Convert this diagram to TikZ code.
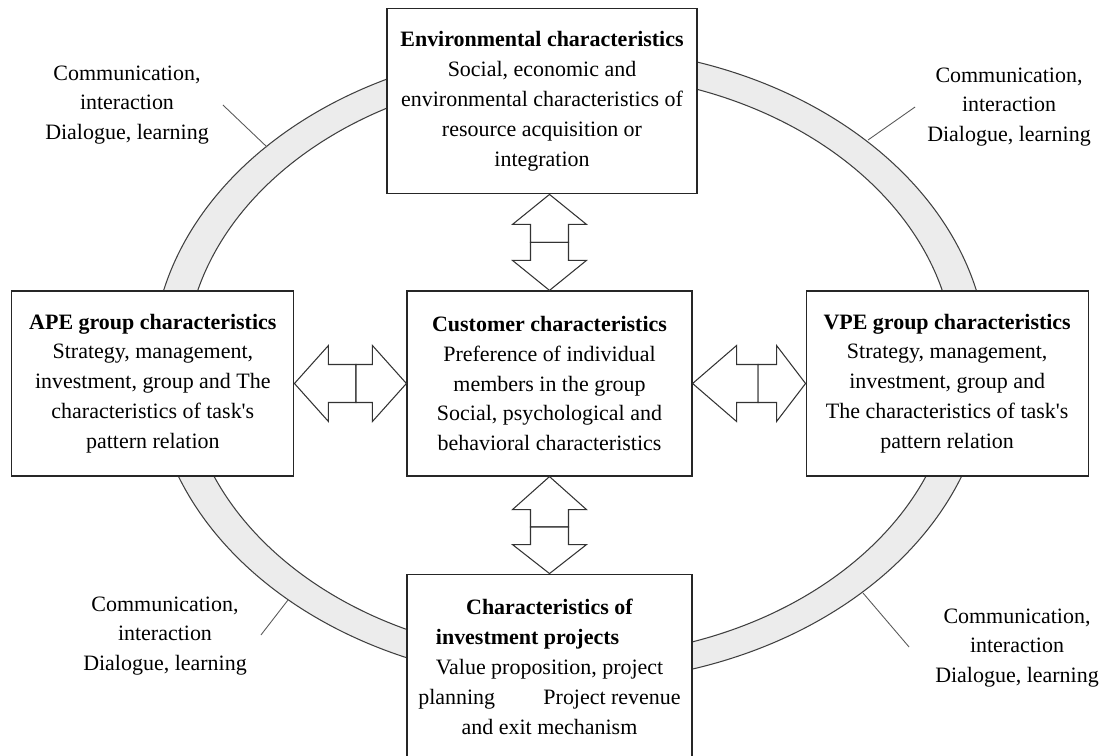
\documentclass[tikz,border=0pt]{standalone}
\usepackage{fontspec}
\setmainfont{Liberation Serif}
\usetikzlibrary{positioning,calc}

\begin{document}
\begin{tikzpicture}[
        x=0.02cm, y=-0.02cm,
        box/.style={
            draw=black!85,
            line width=0.7pt,
            fill=white,
            align=center,
            minimum height=3.7cm,
            inner sep=0pt,
            font=\fontsize{12.5}{17}\selectfont
        },
        comm/.style={
            align=center,
            font=\fontsize{12.5}{17}\selectfont
        },
        ring/.style={draw=black!75, line width=0.6pt},
        callout/.style={draw=black!65, line width=0.5pt},
        blockarrow/.style={draw=black!80, line width=0.6pt, fill=white, line join=miter}
    ]
        \useasboundingbox (0,0) rectangle (1100,756);

        \coordinate (ringc) at (570,365);
        \fill[gray!15, even odd rule]
            (ringc) ellipse [x radius=8.36cm, y radius=6.36cm]
            (ringc) ellipse [x radius=7.7cm, y radius=5.84cm];
        \draw[ring] (ringc) ellipse [x radius=8.36cm, y radius=6.36cm];
        \draw[ring] (ringc) ellipse [x radius=7.7cm, y radius=5.84cm];

        \node[box, minimum width=5.7cm] (cust) at (549.5,383.5) {
            \textbf{Customer characteristics}\\
            Preference of individual\\
            members in the group\\
            Social, psychological and\\
            behavioral characteristics
        };

        \node[box, minimum width=6.2cm, above=1.92cm of cust, xshift=-0.15cm] (env) {
            \textbf{Environmental characteristics}\\
            Social, economic and\\
            environmental characteristics of\\
            resource acquisition or\\
            integration
        };

        \node[box, minimum width=5.64cm, left=2.24cm of cust] (ape) {
            \textbf{APE group characteristics}\\
            Strategy, management,\\
            investment, group and The\\
            characteristics of task\textquotesingle s\\
            pattern relation
        };

        \node[box, minimum width=5.64cm, right=2.26cm of cust] (vpe) {
            \textbf{VPE group characteristics}\\
            Strategy, management,\\
            investment, group and\\
            The characteristics of task\textquotesingle s\\
            pattern relation
        };

        \node[box, minimum width=5.7cm, below=1.94cm of cust] (inv) {
            \textbf{Characteristics of}\\
            \textbf{investment projects}\hphantom{xxxx}\\
            Value proposition, project\\
            planning\hspace{2.2em}Project revenue\\
            and exit mechanism
        };

        \coordinate (t1) at (env.south -| cust.north);
        \coordinate (m1) at ($(t1)!0.5!(cust.north)$);
        \draw[blockarrow] (t1) -- ++(37,30) -- ++(-18,0) |- ($(m1)+(-19,0)$) |- ($(t1)+(-37,30)$) -- cycle;
        \draw[blockarrow] (cust.north) -- ++(37,-30) -- ++(-18,0) |- ($(m1)+(-19,0)$) |- ($(cust.north)+(-37,-30)$) -- cycle;

        \coordinate (m2) at ($(cust.south)!0.52!(inv.north)$);
        \draw[blockarrow] (cust.south) -- ++(37,33) -- ++(-18,0) |- ($(m2)+(-19,0)$) |- ($(cust.south)+(-37,33)$) -- cycle;
        \draw[blockarrow] (inv.north) -- ++(37,-29) -- ++(-18,0) |- ($(m2)+(-19,0)$) |- ($(inv.north)+(-37,-29)$) -- cycle;

        \coordinate (m3) at ($(ape.east)!0.55!(cust.west)$);
        \draw[blockarrow] (ape.east) -- ++(34,-38) -- ++(0,19) -| ($(m3)+(0,19)$) -| ($(ape.east)+(34,38)$) -- cycle;
        \draw[blockarrow] (cust.west) -- ++(-34,-38) -- ++(0,19) -| ($(m3)+(0,19)$) -| ($(cust.west)+(-34,38)$) -- cycle;

        \coordinate (m4) at ($(cust.east)!0.58!(vpe.west)$);
        \draw[blockarrow] (cust.east) -- ++(44,-38) -- ++(0,19) -| ($(m4)+(0,19)$) -| ($(cust.east)+(44,38)$) -- cycle;
        \draw[blockarrow] (vpe.west) -- ++(-29,-38) -- ++(0,19) -| ($(m4)+(0,19)$) -| ($(vpe.west)+(-29,38)$) -- cycle;

        \node[comm] (c1) at (127,105) {Communication,\\ interaction\\ Dialogue, learning};
        \node[comm] (c2) at (1009,107) {Communication,\\ interaction\\ Dialogue, learning};
        \node[comm] (c3) at (165,636) {Communication,\\ interaction\\ Dialogue, learning};
        \node[comm] (c4) at (1017,648) {Communication,\\ interaction\\ Dialogue, learning};

        \coordinate (r1) at (267,147);
        \coordinate (r2) at (868,140);
        \coordinate (r3) at (288,600);
        \coordinate (r4) at (863,593);

        \draw[callout] ($(c1.east)+(8,0)$) -- (r1);
        \draw[callout] ($(c2.west)+(-6,0)$) -- (r2);
        \draw[callout] ($(c3.east)+(8,-1)$) -- (r3);
        \draw[callout] ($(c4.west)+(-20,-1)$) -- (r4);
    \end{tikzpicture}
\end{document}
